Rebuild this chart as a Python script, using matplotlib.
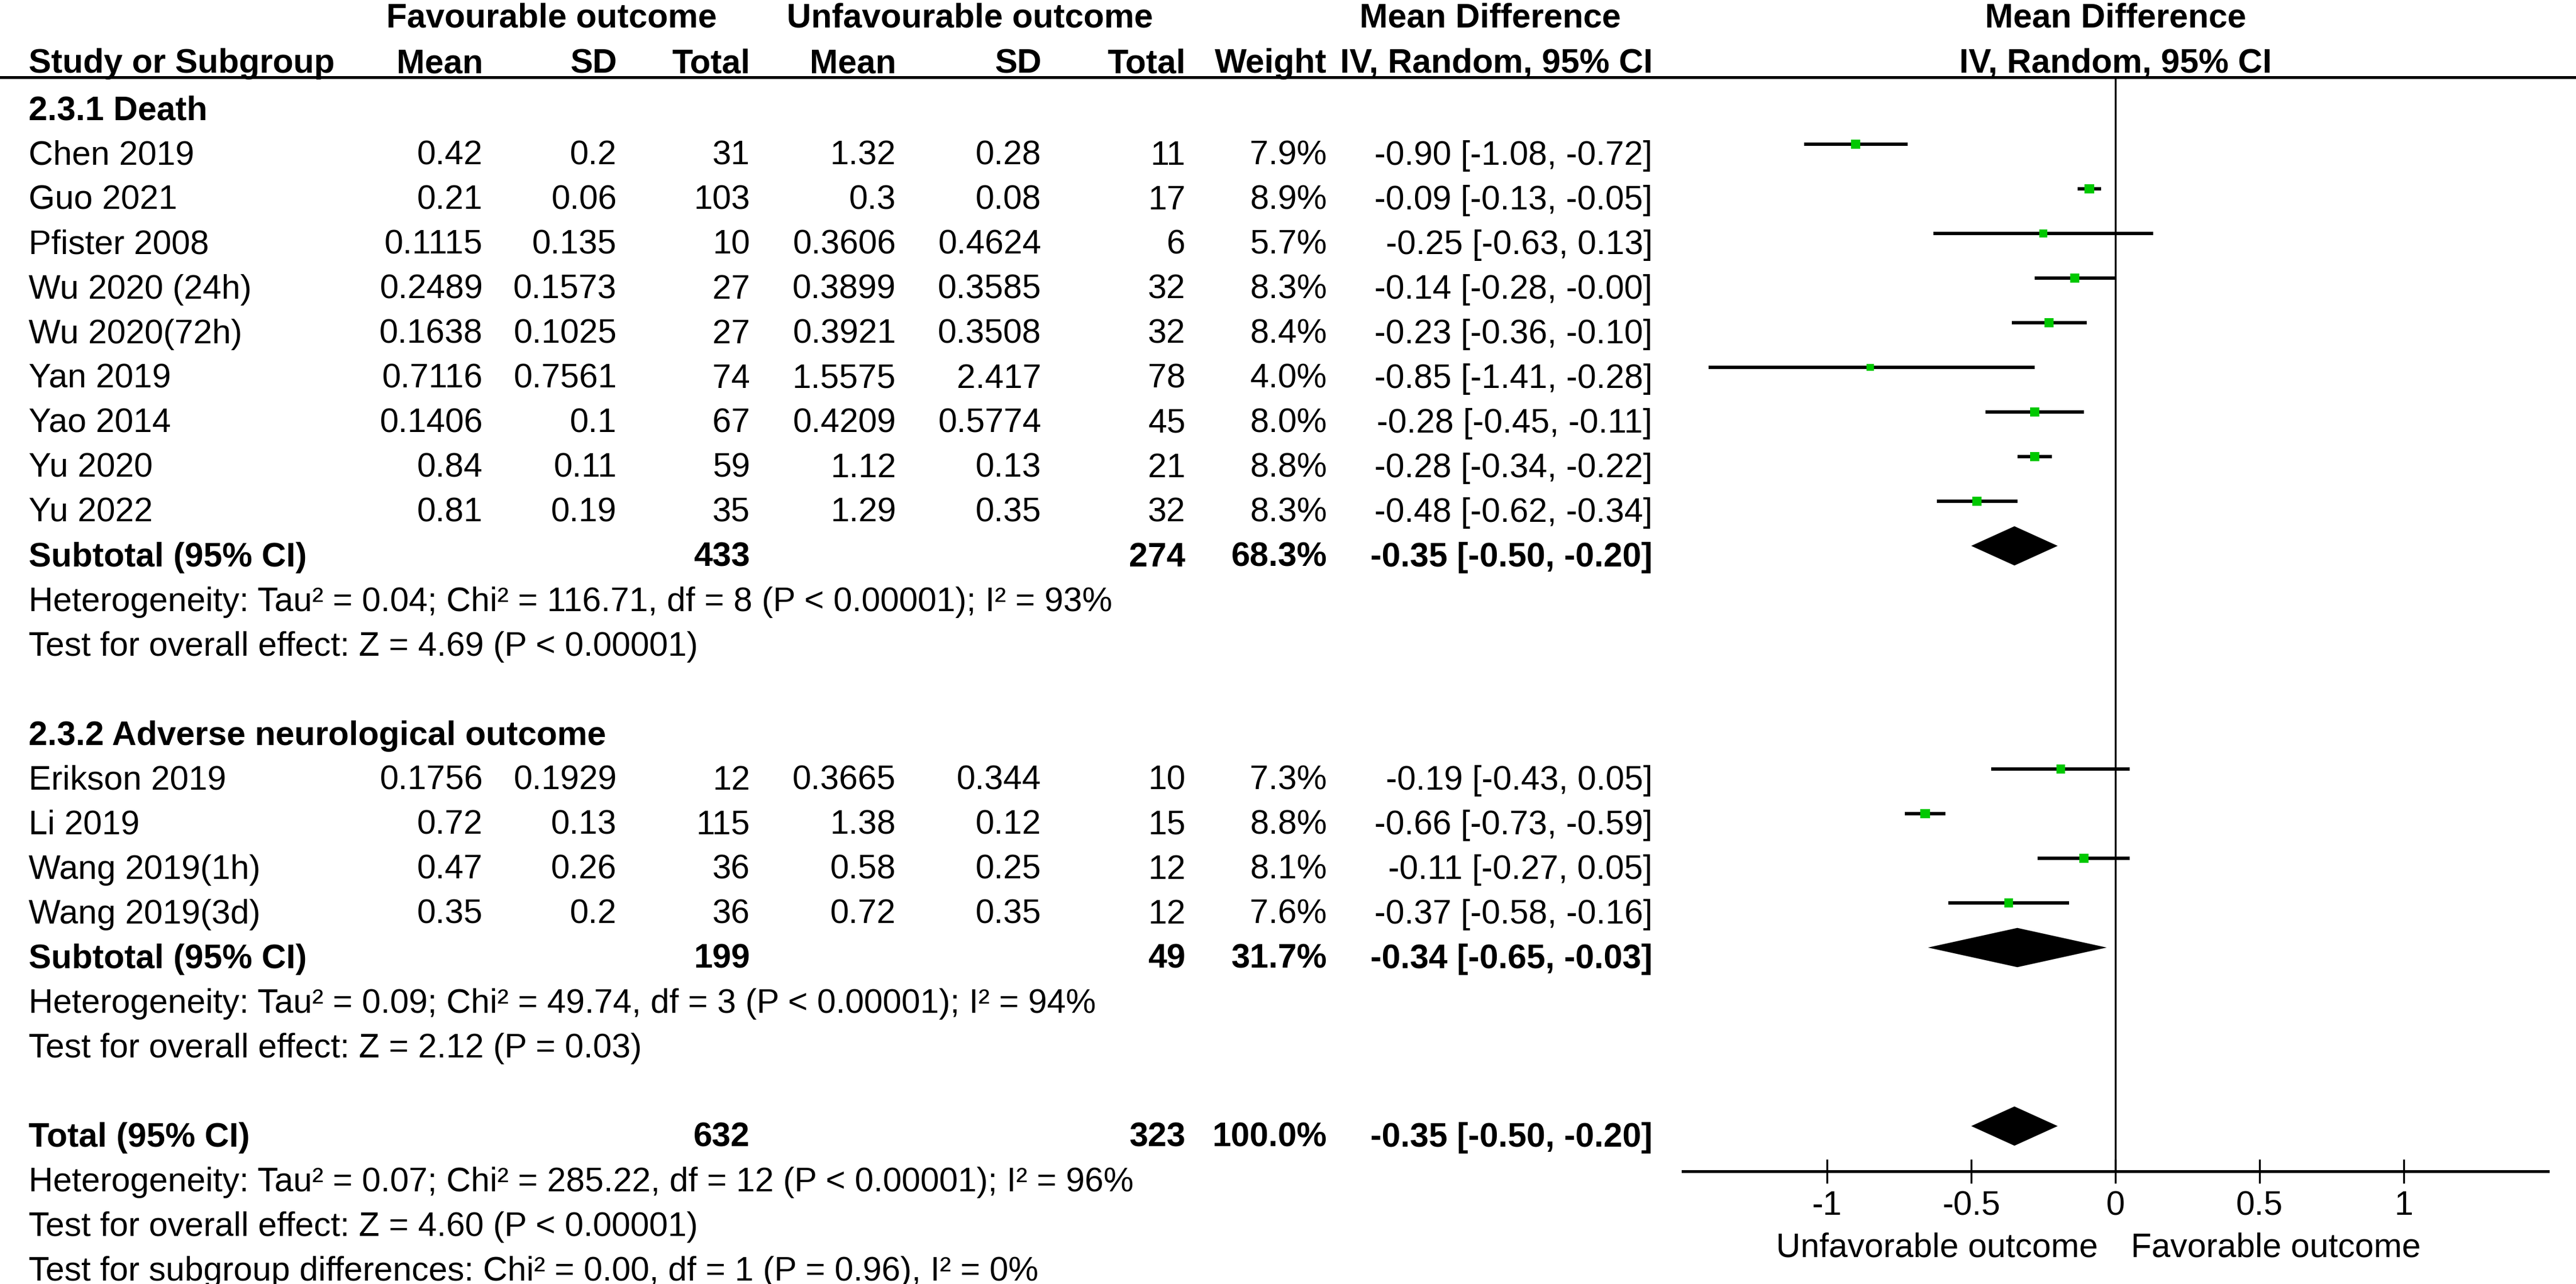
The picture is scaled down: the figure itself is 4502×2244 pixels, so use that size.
import numpy as np
import matplotlib.pyplot as plt
import matplotlib.transforms as mtransforms
from matplotlib.lines import Line2D

plt.rcParams['font.family'] = ['Liberation Sans', 'DejaVu Sans']

# study level data
study = ['Chen 2019', 'Guo 2021', 'Pfister 2008', 'Wu 2020 (24h)', 'Wu 2020(72h)',
         'Yan 2019', 'Yao 2014', 'Yu 2020', 'Yu 2022',
         'Erikson 2019', 'Li 2019', 'Wang 2019(1h)', 'Wang 2019(3d)']
group = [1, 1, 1, 1, 1, 1, 1, 1, 1, 2, 2, 2, 2]
fav_mean = [0.42, 0.21, 0.1115, 0.2489, 0.1638, 0.7116, 0.1406, 0.84, 0.81,
            0.1756, 0.72, 0.47, 0.35]
fav_sd = [0.2, 0.06, 0.135, 0.1573, 0.1025, 0.7561, 0.1, 0.11, 0.19,
          0.1929, 0.13, 0.26, 0.2]
fav_n = [31, 103, 10, 27, 27, 74, 67, 59, 35, 12, 115, 36, 36]
unf_mean = [1.32, 0.3, 0.3606, 0.3899, 0.3921, 1.5575, 0.4209, 1.12, 1.29,
            0.3665, 1.38, 0.58, 0.72]
unf_sd = [0.28, 0.08, 0.4624, 0.3585, 0.3508, 2.417, 0.5774, 0.13, 0.35,
          0.344, 0.12, 0.25, 0.35]
unf_n = [11, 17, 6, 32, 32, 78, 45, 21, 32, 10, 15, 12, 12]
weight = [7.9, 8.9, 5.7, 8.3, 8.4, 4.0, 8.0, 8.8, 8.3, 7.3, 8.8, 8.1, 7.6]
md = [-0.90, -0.09, -0.25, -0.14, -0.23, -0.85, -0.28, -0.28, -0.48,
      -0.19, -0.66, -0.11, -0.37]
md_lo = [-1.08, -0.13, -0.63, -0.28, -0.36, -1.41, -0.45, -0.34, -0.62,
         -0.43, -0.73, -0.27, -0.58]
md_hi = [-0.72, -0.05, 0.13, -0.0, -0.10, -0.28, -0.11, -0.22, -0.34,
         0.05, -0.59, 0.05, -0.16]

# subgroup / overall summaries
group_title = ['2.3.1 Death', '2.3.2 Adverse neurological outcome']
sum_label = ['Subtotal (95% CI)', 'Subtotal (95% CI)', 'Total (95% CI)']
sum_fav_n = [433, 199, 632]
sum_unf_n = [274, 49, 323]
sum_weight = [68.3, 31.7, 100.0]
sum_md = [-0.35, -0.34, -0.35]
sum_lo = [-0.50, -0.65, -0.50]
sum_hi = [-0.20, -0.03, -0.20]
het_text = ['Heterogeneity: Tau² = 0.04; Chi² = 116.71, df = 8 (P < 0.00001); I² = 93%',
            'Heterogeneity: Tau² = 0.09; Chi² = 49.74, df = 3 (P < 0.00001); I² = 94%',
            'Heterogeneity: Tau² = 0.07; Chi² = 285.22, df = 12 (P < 0.00001); I² = 96%']
effect_text = ['Test for overall effect: Z = 4.69 (P < 0.00001)',
               'Test for overall effect: Z = 2.12 (P = 0.03)',
               'Test for overall effect: Z = 4.60 (P < 0.00001)']
subgroup_text = 'Test for subgroup differences: Chi² = 0.00, df = 1 (P = 0.96), I² = 0%'

W, H = 4502, 2244
fs = 14.2
fig = plt.figure(figsize=(W / 300, H / 300), dpi=300)
ax = fig.add_axes([2941 / W, 1 - 2047 / H, (4453 - 2941) / W, (2047 - 135) / H])
ax.set_xlim(-1.5, 1.5)
ax.set_ylim((2047 - 252) / 78, (135 - 252) / 78)

# row layout
rows = []
r = 0
sum_rows = []
title_rows = []
for g in (1, 2):
    title_rows.append(r - 1)
    for i in range(len(study)):
        if group[i] == g:
            rows.append(r)
            r += 1
    sum_rows.append(r)
    r += 5
sum_rows.append(r - 1)
rows = np.array(rows)

tr = mtransforms.blended_transform_factory(fig.transFigure, ax.transData)
off = 36 / 78
col = dict(name=50, fm=844, fs=1078, fn=1311, um=1566, us=1820, un=2072, w=2319, ci=2888)


def put(x, y, s, ha='right', bold=False):
    ax.text(x / W, y, s, transform=tr, ha=ha, va='baseline', fontsize=fs,
            fontweight='bold' if bold else 'normal', clip_on=False)


# headers
hy1 = (48 - 252) / 78
hy2 = (127 - 252) / 78
put(964, hy1, 'Favourable outcome', ha='center', bold=True)
put(1695, hy1, 'Unfavourable outcome', ha='center', bold=True)
put(2604, hy1, 'Mean Difference', ha='center', bold=True)
put(3697, hy1, 'Mean Difference', ha='center', bold=True)
put(col['name'], hy2, 'Study or Subgroup', ha='left', bold=True)
for key, lab in [('fm', 'Mean'), ('fs', 'SD'), ('fn', 'Total'), ('um', 'Mean'),
                 ('us', 'SD'), ('un', 'Total'), ('w', 'Weight'), ('ci', 'IV, Random, 95% CI')]:
    put(col[key], hy2, lab, bold=True)
put(3697, hy2, 'IV, Random, 95% CI', ha='center', bold=True)
fig.add_artist(Line2D([0, 1], [1 - 135 / H] * 2, transform=fig.transFigure, color='k', lw=1.2))

for k, t in enumerate(group_title):
    put(col['name'], title_rows[k] + off, t, ha='left', bold=True)

for i in range(len(study)):
    y = rows[i] + off
    put(col['name'], y, study[i], ha='left')
    put(col['fm'], y, f'{fav_mean[i]:g}')
    put(col['fs'], y, f'{fav_sd[i]:g}')
    put(col['fn'], y, str(fav_n[i]))
    put(col['um'], y, f'{unf_mean[i]:g}')
    put(col['us'], y, f'{unf_sd[i]:g}')
    put(col['un'], y, str(unf_n[i]))
    put(col['w'], y, f'{weight[i]:.1f}%')
    put(col['ci'], y, f'{md[i]:.2f} [{md_lo[i]:.2f}, {md_hi[i]:.2f}]')

for k in range(3):
    y = sum_rows[k] + off
    put(col['name'], y, sum_label[k], ha='left', bold=True)
    put(col['fn'], y, str(sum_fav_n[k]), bold=True)
    put(col['un'], y, str(sum_unf_n[k]), bold=True)
    put(col['w'], y, f'{sum_weight[k]:.1f}%', bold=True)
    put(col['ci'], y, f'{sum_md[k]:.2f} [{sum_lo[k]:.2f}, {sum_hi[k]:.2f}]', bold=True)
    put(col['name'], y + 1, het_text[k], ha='left')
    put(col['name'], y + 2, effect_text[k], ha='left')
put(col['name'], sum_rows[2] + 3 + off, subgroup_text, ha='left')

# forest plot
ax.axvline(0, color='k', lw=0.8, zorder=1)
ax.hlines(rows, md_lo, md_hi, color='k', lw=1.4, zorder=2)
ax.scatter(md, rows, marker='s', s=(3.8 * (np.array(weight) / 7.9) ** 0.35) ** 2,
           color='#00c800', linewidths=0, zorder=3)
for k in range(3):
    yc = sum_rows[k]
    ax.fill([sum_lo[k], sum_md[k], sum_hi[k], sum_md[k]],
            [yc, yc - 0.44, yc, yc + 0.44], color='k', lw=0, zorder=3)

for s in ['top', 'left', 'right']:
    ax.spines[s].set_visible(False)
ax.spines['bottom'].set_linewidth(1.2)
ax.set_yticks([])
ax.set_xticks([-1, -0.5, 0, 0.5, 1])
ax.set_xticklabels(['-1', '-0.5', '0', '0.5', '1'])
ax.tick_params(axis='x', direction='inout', length=10, width=0.8, labelsize=fs, pad=3)
ybot = (2197 - 252) / 78
ax.text(-0.06, ybot, 'Unfavorable outcome', ha='right', va='baseline', fontsize=fs, clip_on=False)
ax.text(0.054, ybot, 'Favorable outcome', ha='left', va='baseline', fontsize=fs, clip_on=False)

fig.savefig('out.png', dpi=300, facecolor='white')
